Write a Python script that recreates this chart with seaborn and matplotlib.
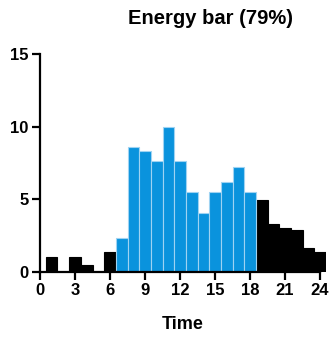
import numpy as np
import pandas as pd
import seaborn as sns
import matplotlib.pyplot as plt

hours = list(range(1, 25))
energy = [1.0, 0.0, 1.0, 0.48, 0.0, 1.38, 2.32, 8.58, 8.35, 7.6, 10.0, 7.6,
          5.48, 4.06, 5.48, 6.17, 7.2, 5.48, 4.98, 3.28, 3.05, 2.87, 1.63, 1.35]
active = [h >= 7 and h <= 18 for h in hours]

df = pd.DataFrame({"hour": hours, "energy": energy, "active": active})

sns.set_style("ticks", {"axes.edgecolor": "black", "text.color": "black",
                        "xtick.color": "black", "ytick.color": "black",
                        "axes.labelcolor": "black"})
plt.rcParams['font.family'] = ['Liberation Sans', 'DejaVu Sans']
plt.rcParams['font.weight'] = 'bold'

fig = plt.figure(figsize=(3.36, 3.37), dpi=100)
ax = fig.add_axes([0.119, 0.193, 0.851, 0.647])

blue = "#0A93DD"
for flag, col, edge in [(False, "black", "black"), (True, blue, "#9fd3f2")]:
    sub = df[df["active"] == flag]
    ax.bar(sub["hour"], sub["energy"], width=1.0, color=col,
           edgecolor=edge, linewidth=0.8)

ax.set_xlim(0, 24.5)
ax.set_ylim(0, 15)
ax.set_xticks(range(0, 25, 3))
ax.set_yticks([0, 5, 10, 15])
ax.spines['left'].set_bounds(0, 15)
ax.spines['bottom'].set_bounds(0, 24)
sns.despine(ax=ax)
for s in ['left', 'bottom']:
    ax.spines[s].set_linewidth(1.6)
ax.tick_params(width=1.6, length=6, labelsize=12, pad=2, colors="black")
for lab in ax.get_xticklabels() + ax.get_yticklabels():
    lab.set_fontweight('bold')
ax.set_xlabel("Time", fontsize=13, fontweight='bold', labelpad=13, color="black")
fig.text(0.625, 0.945, "Energy bar (79%)", ha='center', va='center',
         fontsize=14.5, fontweight='bold', color="black")

plt.savefig("out.png", dpi=100)
